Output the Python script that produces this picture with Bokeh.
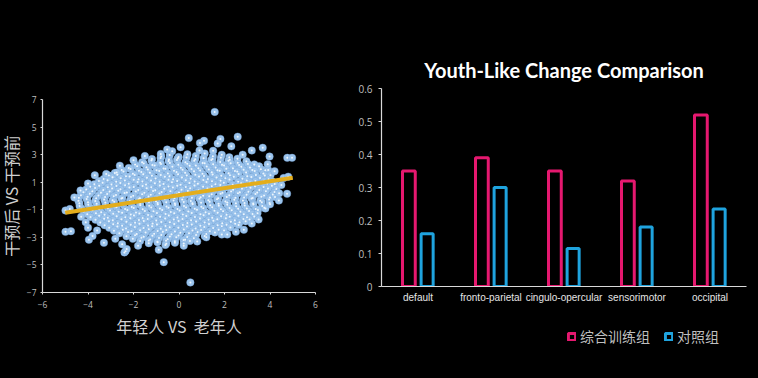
from bokeh.plotting import figure
from bokeh.models import Range1d, FixedTicker, FactorRange, Legend, LegendItem, ColumnDataSource
from bokeh.transform import dodge
from bokeh.layouts import row, column
from bokeh.embed import file_html
from bokeh.resources import INLINE

# ---------------- data ----------------
# scatter: 年轻人 VS 老年人 (x)  vs  干预后 VS 干预前 (y)
core_points = [
    (-0.78, 2.86), (-0.41, 2.97), (-0.02, 2.83), (0.37, 3.02), (0.74, 2.91), (1.13, 3.08), (1.49, 2.88), (1.88, 2.99), (2.21, 2.81),
    (-0.3, 3.25), (0.9, 3.3), (1.5, 3.28),
    (-1.19, 2.68), (-0.81, 2.76), (-0.44, 2.64), (-0.05, 2.73), (0.33, 2.79), (0.71, 2.66), (1.08, 2.74), (1.47, 2.69), (1.84, 2.77), (2.23, 2.63), (2.57, 2.71),
    (-1.62, 2.45), (-1.21, 2.58), (-0.83, 2.41), (-0.46, 2.53), (-0.09, 2.62), (0.28, 2.44), (0.67, 2.55), (1.04, 2.39), (1.42, 2.61), (1.81, 2.47), (2.17, 2.56), (2.58, 2.42), (2.96, 2.52),
    (-1.93, 2.28), (-1.55, 2.36), (-1.17, 2.25), (-0.79, 2.33), (-0.4, 2.39), (-0.03, 2.27), (0.36, 2.34), (0.74, 2.22), (1.13, 2.37), (1.5, 2.3), (1.89, 2.26), (2.27, 2.38), (2.64, 2.24), (3.03, 2.32), (3.31, 2.29),
    (-2.21, 2.03), (-1.84, 2.16), (-1.43, 2.08), (-1.07, 2.21), (-0.68, 1.99), (-0.29, 2.12), (0.08, 2.05), (0.47, 2.19), (0.85, 2.02), (1.22, 2.14), (1.61, 2.07), (1.98, 2.22), (2.37, 2.01), (2.74, 2.13), (3.12, 2.06), (3.52, 2.15),
    (-2.52, 1.88), (-2.13, 1.95), (-1.76, 1.84), (-1.37, 1.92), (-0.99, 1.86), (-0.6, 1.97), (-0.22, 1.83), (0.16, 1.9), (0.55, 1.96), (0.93, 1.85), (1.31, 1.93), (1.69, 1.87), (2.08, 1.98), (2.46, 1.82), (2.84, 1.91), (3.22, 1.89), (3.6, 1.94), (3.79, 1.86),
    (-2.82, 1.66), (-2.44, 1.78), (-2.03, 1.62), (-1.66, 1.74), (-1.28, 1.69), (-0.87, 1.81), (-0.49, 1.63), (-0.11, 1.75), (0.27, 1.68), (0.66, 1.79), (1.03, 1.61), (1.44, 1.72), (1.79, 1.84), (2.18, 1.65), (2.56, 1.77), (2.95, 1.7), (3.33, 1.82), (3.71, 1.64), (3.92, 1.88),
    (-3.08, 1.48), (-2.71, 1.55), (-2.33, 1.44), (-1.95, 1.52), (-1.57, 1.58), (-1.19, 1.46), (-0.8, 1.53), (-0.42, 1.43), (-0.04, 1.57), (0.34, 1.49), (0.72, 1.54), (1.1, 1.45), (1.48, 1.56), (1.86, 1.47), (2.24, 1.51), (2.62, 1.59), (3.0, 1.44), (3.38, 1.53), (3.77, 1.48), (4.02, 1.5),
    (-3.31, 1.24), (-2.92, 1.36), (-2.56, 1.29), (-2.17, 1.41), (-1.78, 1.22), (-1.41, 1.33), (-1.03, 1.27), (-0.62, 1.39), (-0.26, 1.21), (0.13, 1.35), (0.51, 1.26), (0.88, 1.42), (1.27, 1.23), (1.65, 1.34), (2.04, 1.28), (2.41, 1.4), (2.79, 1.25), (3.18, 1.37), (3.56, 1.3), (3.94, 1.21),
    (-3.52, 1.08), (-3.14, 1.15), (-2.76, 1.04), (-2.38, 1.12), (-1.99, 1.18), (-1.61, 1.06), (-1.23, 1.13), (-0.85, 1.03), (-0.46, 1.17), (-0.08, 1.09), (0.3, 1.14), (0.69, 1.05), (1.07, 1.16), (1.45, 1.07), (1.83, 1.11), (2.22, 1.19), (2.6, 1.04), (2.98, 1.13), (3.36, 1.08), (3.74, 1.1), (4.1, 1.06),
    (-3.72, 0.86), (-3.36, 0.97), (-2.97, 0.83), (-2.58, 0.95), (-2.21, 0.88), (-1.82, 1.01), (-1.45, 0.84), (-1.06, 0.93), (-0.68, 0.87), (-0.31, 0.99), (0.07, 0.82), (0.46, 0.94), (0.83, 0.89), (1.21, 1.02), (1.6, 0.85), (1.97, 0.96), (2.36, 0.81), (2.73, 0.92), (3.12, 0.98), (3.49, 0.84), (3.88, 0.91), (4.21, 0.87),
    (-3.9, 0.68), (-3.51, 0.75), (-3.13, 0.64), (-2.75, 0.72), (-2.37, 0.78), (-1.99, 0.66), (-1.6, 0.73), (-1.22, 0.63), (-0.84, 0.77), (-0.46, 0.69), (-0.08, 0.74), (0.3, 0.65), (0.68, 0.76), (1.06, 0.67), (1.44, 0.71), (1.82, 0.79), (2.2, 0.64), (2.58, 0.73), (2.96, 0.68), (3.34, 0.7), (3.72, 0.66), (4.08, 0.74),
    (-4.08, 0.47), (-3.69, 0.58), (-3.33, 0.43), (-2.94, 0.55), (-2.57, 0.49), (-2.18, 0.61), (-1.79, 0.44), (-1.42, 0.56), (-1.04, 0.41), (-0.65, 0.53), (-0.27, 0.62), (0.11, 0.46), (0.49, 0.57), (0.86, 0.42), (1.25, 0.54), (1.63, 0.48), (2.01, 0.6), (2.38, 0.45), (2.77, 0.52), (3.14, 0.59), (3.53, 0.43), (3.91, 0.55), (4.28, 0.5),
    (-4.2, 0.28), (-3.81, 0.35), (-3.43, 0.24), (-3.05, 0.32), (-2.67, 0.38), (-2.29, 0.26), (-1.9, 0.33), (-1.52, 0.23), (-1.14, 0.37), (-0.76, 0.29), (-0.38, 0.34), (0.0, 0.25), (0.39, 0.36), (0.77, 0.27), (1.15, 0.31), (1.53, 0.39), (1.91, 0.24), (2.29, 0.33), (2.67, 0.28), (3.05, 0.3), (3.44, 0.26), (3.82, 0.34), (4.2, 0.29),
    (-4.31, 0.06), (-3.92, 0.17), (-3.54, 0.03), (-3.16, 0.14), (-2.77, 0.08), (-2.39, 0.21), (-2.01, 0.02), (-1.62, 0.13), (-1.24, 0.09), (-0.86, 0.19), (-0.47, 0.04), (-0.09, 0.15), (0.3, 0.07), (0.68, 0.18), (1.06, 0.01), (1.44, 0.12), (1.83, 0.16), (2.21, 0.05), (2.59, 0.2), (2.97, 0.09), (3.36, 0.14), (3.74, 0.03), (4.12, 0.11),
    (-4.4, -0.12), (-4.02, -0.05), (-3.64, -0.16), (-3.25, -0.08), (-2.87, -0.02), (-2.49, -0.14), (-2.11, -0.07), (-1.72, -0.17), (-1.34, -0.03), (-0.96, -0.11), (-0.58, -0.06), (-0.2, -0.15), (0.19, -0.04), (0.57, -0.13), (0.95, -0.09), (1.33, -0.01), (1.72, -0.16), (2.1, -0.07), (2.48, -0.12), (2.86, -0.1), (3.24, -0.14), (3.62, -0.06), (4.0, -0.11), (4.22, -0.08),
    (-4.42, -0.34), (-4.06, -0.22), (-3.68, -0.37), (-3.29, -0.26), (-2.92, -0.31), (-2.53, -0.19), (-2.16, -0.35), (-1.77, -0.24), (-1.39, -0.29), (-1.01, -0.38), (-0.63, -0.21), (-0.24, -0.33), (0.14, -0.25), (0.52, -0.36), (0.9, -0.2), (1.29, -0.3), (1.67, -0.23), (2.04, -0.39), (2.43, -0.27), (2.81, -0.32), (3.19, -0.18), (3.57, -0.34), (3.96, -0.26),
    (-4.38, -0.52), (-4.0, -0.45), (-3.62, -0.56), (-3.24, -0.48), (-2.85, -0.42), (-2.47, -0.54), (-2.09, -0.47), (-1.71, -0.57), (-1.32, -0.43), (-0.94, -0.51), (-0.56, -0.46), (-0.18, -0.55), (0.21, -0.44), (0.59, -0.53), (0.97, -0.49), (1.35, -0.41), (1.74, -0.56), (2.12, -0.47), (2.5, -0.52), (2.88, -0.5), (3.26, -0.54), (3.64, -0.46), (3.98, -0.51),
    (-4.37, -0.72), (-3.99, -0.63), (-3.61, -0.77), (-3.23, -0.66), (-2.84, -0.74), (-2.46, -0.61), (-2.08, -0.79), (-1.7, -0.68), (-1.31, -0.71), (-0.93, -0.62), (-0.55, -0.76), (-0.17, -0.65), (0.22, -0.73), (0.6, -0.6), (0.98, -0.78), (1.37, -0.67), (1.75, -0.7), (2.12, -0.64), (2.51, -0.75), (2.89, -0.69), (3.27, -0.62), (3.66, -0.73),
    (-4.28, -0.92), (-3.9, -0.85), (-3.52, -0.96), (-3.13, -0.88), (-2.75, -0.82), (-2.37, -0.94), (-1.99, -0.87), (-1.6, -0.97), (-1.22, -0.83), (-0.84, -0.91), (-0.46, -0.86), (-0.07, -0.95), (0.31, -0.84), (0.69, -0.93), (1.07, -0.89), (1.46, -0.81), (1.84, -0.96), (2.22, -0.87), (2.6, -0.92), (2.98, -0.9), (3.37, -0.94), (3.75, -0.86),
    (-4.18, -1.12), (-3.8, -1.03), (-3.42, -1.17), (-3.03, -1.06), (-2.65, -1.14), (-2.27, -1.01), (-1.89, -1.19), (-1.5, -1.08), (-1.12, -1.11), (-0.74, -1.02), (-0.36, -1.16), (0.03, -1.05), (0.41, -1.13), (0.79, -1.0), (1.17, -1.18), (1.56, -1.07), (1.94, -1.1), (2.32, -1.04), (2.7, -1.15), (3.08, -1.09), (3.47, -1.02),
    (-4.03, -1.32), (-3.65, -1.25), (-3.27, -1.36), (-2.89, -1.28), (-2.5, -1.22), (-2.12, -1.34), (-1.74, -1.27), (-1.36, -1.37), (-0.97, -1.23), (-0.59, -1.31), (-0.21, -1.26), (0.17, -1.35), (0.56, -1.24), (0.94, -1.33), (1.32, -1.29), (1.7, -1.21), (2.09, -1.36), (2.47, -1.27), (2.85, -1.32), (3.23, -1.3), (3.45, -1.26),
    (-3.89, -1.52), (-3.51, -1.43), (-3.13, -1.57), (-2.74, -1.46), (-2.36, -1.54), (-1.98, -1.41), (-1.6, -1.59), (-1.21, -1.48), (-0.83, -1.51), (-0.45, -1.42), (-0.07, -1.56), (0.32, -1.45), (0.7, -1.53), (1.08, -1.4), (1.46, -1.58), (1.85, -1.47), (2.23, -1.5), (2.61, -1.44), (2.99, -1.55), (3.31, -1.49),
    (-3.67, -1.72), (-3.29, -1.65), (-2.91, -1.76), (-2.53, -1.68), (-2.14, -1.62), (-1.76, -1.74), (-1.38, -1.67), (-1.0, -1.77), (-0.61, -1.63), (-0.23, -1.71), (0.15, -1.66), (0.53, -1.75), (0.92, -1.64), (1.3, -1.73), (1.68, -1.69), (2.06, -1.61), (2.45, -1.76), (2.83, -1.67), (3.1, -1.7),
    (-3.46, -1.92), (-3.08, -1.83), (-2.69, -1.97), (-2.31, -1.86), (-1.93, -1.94), (-1.55, -1.81), (-1.16, -1.99), (-0.78, -1.88), (-0.4, -1.91), (-0.02, -1.82), (0.37, -1.96), (0.75, -1.85), (1.13, -1.93), (1.51, -1.8), (1.9, -1.98), (2.28, -1.87), (2.66, -1.9), (2.93, -1.84),
    (-3.27, -2.12), (-2.89, -2.05), (-2.5, -2.16), (-2.12, -2.08), (-1.74, -2.02), (-1.36, -2.14), (-0.97, -2.07), (-0.59, -2.17), (-0.21, -2.03), (0.17, -2.11), (0.56, -2.06), (0.94, -2.15), (1.32, -2.04), (1.7, -2.13), (2.09, -2.09), (2.47, -2.01), (2.62, -2.1),
    (-3.07, -2.31), (-2.71, -2.22), (-2.33, -2.36), (-1.94, -2.25), (-1.56, -2.33), (-1.18, -2.2), (-0.8, -2.38), (-0.41, -2.27), (-0.03, -2.3), (0.35, -2.21), (0.73, -2.35), (1.11, -2.24), (1.5, -2.32), (1.88, -2.19), (2.26, -2.28),
    (-2.86, -2.52), (-2.47, -2.45), (-2.09, -2.56), (-1.71, -2.48), (-1.33, -2.42), (-0.94, -2.54), (-0.56, -2.47), (-0.18, -2.57), (0.21, -2.43), (0.59, -2.51), (0.97, -2.46), (1.35, -2.55), (1.74, -2.44), (1.98, -2.5),
    (-2.62, -2.71), (-2.24, -2.62), (-1.86, -2.76), (-1.47, -2.65), (-1.09, -2.73), (-0.71, -2.6), (-0.33, -2.78), (0.06, -2.67), (0.44, -2.7), (0.82, -2.61), (1.2, -2.75), (1.58, -2.64),
    (-2.31, -2.92), (-1.93, -2.85), (-1.55, -2.96), (-1.17, -2.88), (-0.78, -2.82), (-0.4, -2.94), (-0.02, -2.87), (0.36, -2.97), (0.75, -2.83), (1.13, -2.91),
    (-2.03, -3.11), (-1.65, -3.02), (-1.27, -3.16), (-0.88, -3.05), (-0.5, -3.13), (-0.12, -3.0), (0.27, -3.18), (0.65, -3.07),
    (-1.71, -3.27), (-1.33, -3.22), (-0.95, -3.31), (-0.57, -3.24), (-0.18, -3.29), (0.2, -3.2), (0.48, -3.26),
    (-1.33, -3.42), (-0.94, -3.36), (-0.56, -3.47), (-0.18, -3.39), (0.21, -3.44),
]
fringe_points = [
    (-4.6, -0.1), (-4.33, 0.4), (-4.8, -0.95), (-4.99, -1.05), (-4.3, -1.5), (-4.1, -1.9), (-4.0, -2.3), (-3.6, -2.5),
    (-3.8, -2.9), (-3.96, -3.17), (-3.3, -3.4), (-2.8, -3.1), (-2.5, -3.5), (-1.8, -3.6), (-0.89, -3.9), (-0.6, -3.55),
    (0.21, -3.6), (0.8, -3.3), (1.2, -3.0), (1.88, -2.8), (2.12, -2.8), (2.5, -2.6), (2.85, -2.45), (3.2, -2.0),
    (3.5, -1.7), (3.8, -0.9), (4.0, -0.6), (4.39, -0.33), (4.4, 0.2), (4.75, 0.16), (4.5, 0.8), (4.6, 1.3),
    (4.2, 1.8), (3.9, 2.3), (3.98, 2.86), (3.68, 3.5), (3.2, 3.3), (2.8, 3.0), (2.58, 4.3), (2.3, 3.6),
    (1.82, 4.14), (1.7, 3.8), (1.1, 4.0), (0.92, 3.85), (0.43, 4.2), (0.07, 3.54), (-0.52, 3.37), (-0.8, 3.05),
    (-1.5, 2.9), (-2.0, 2.6), (-2.6, 2.2), (-3.2, 1.6), (-2.74, 1.7), (-3.7, 1.5), (-4.0, 0.9), (-4.99, -2.6),
    (-4.75, -2.55), (4.76, 2.77), (4.97, 2.77), (4.8, 1.4), (-2.4, -4.1), (-2.35, -4.0), (-2.3, -3.85), (-0.67, -4.8),
    (0.5, -6.27), (1.57, 6.1),
]
trend_x = [-5.0, 5.0]
trend_y = [-1.22, 1.33]
x_ticks = [-6, -4, -2, 0, 2, 4, 6]
y_ticks = [-7, -5, -3, -1, 1, 3, 5, 7]

# bar chart
categories = ["default", "fronto-parietal", "cingulo-opercular", "sensorimotor", "occipital"]
training_values = [0.35, 0.39, 0.35, 0.32, 0.52]   # 综合训练组
control_values = [0.16, 0.30, 0.115, 0.18, 0.235]  # 对照组
bar_y_ticks = [0, 0.1, 0.2, 0.3, 0.4, 0.5, 0.6]

# ---------------- styles ----------------
BG = "black"
AXIS_COLOR = "#d9d9d9"
TICK_TEXT = "#bfbfbf"
PINK = "#e5186f"
BLUE = "#1fa3de"
CJK = "Noto Sans CJK SC"

# ---------------- left: scatter ----------------
p1 = figure(width=345, height=378, x_range=Range1d(-6, 6), y_range=Range1d(-7, 7),
            output_backend="svg", toolbar_location=None,
            min_border_left=42, min_border_right=25, min_border_top=99, min_border_bottom=86,
            background_fill_color=BG, border_fill_color=BG, outline_line_color=None,
            frame_align=False)
p1.grid.visible = False
pts = core_points + fringe_points
sx = [p[0] for p in pts]
sy = [p[1] for p in pts]
p1.scatter(sx, sy, size=7.5, fill_color="#9cc4ec", line_color="#74a4d8", line_width=0.4)
p1.scatter(sx, sy, size=2, fill_color="#eef6fd", line_color=None)
p1.line(trend_x, trend_y, line_color="#e3ad1c", line_width=4)

p1.xaxis.ticker = FixedTicker(ticks=x_ticks)
p1.yaxis.ticker = FixedTicker(ticks=y_ticks)
for ax in (p1.xaxis, p1.yaxis):
    ax.axis_line_color = AXIS_COLOR
    ax.axis_line_width = 1.2
    ax.major_tick_line_color = AXIS_COLOR
    ax.major_tick_out = 2
    ax.major_tick_in = 0
    ax.minor_tick_line_color = None
    ax.major_label_text_color = TICK_TEXT
    ax.major_label_text_font = "Open Sans"
    ax.major_label_text_font_size = "8.5px"
    ax.major_label_standoff = 4
    ax.axis_label_text_color = "#d0d0d0"
    ax.axis_label_text_font = CJK
    ax.axis_label_text_font_style = "normal"
    ax.axis_label_text_line_height = 1.0
p1.xaxis.major_label_standoff = 6
p1.xaxis.axis_label = "年轻人 VS \u00a0老年人"
p1.xaxis.axis_label_text_font_size = "16px"
p1.xaxis.axis_label_standoff = 3
p1.yaxis.axis_label = "干预后 VS 干预前"
p1.yaxis.axis_label_text_font_size = "16px"
p1.yaxis.axis_label_standoff = 1

# ---------------- right: bars ----------------
src = ColumnDataSource(dict(cat=categories, train=training_values, ctrl=control_values))
p2 = figure(width=418, height=326, x_range=FactorRange(*categories), y_range=Range1d(0, 0.6),
            output_backend="svg", toolbar_location=None,
            min_border_left=41, min_border_right=12, min_border_top=88, min_border_bottom=40,
            background_fill_color=BG, border_fill_color=BG, outline_line_color=None,
            title="Youth-Like Change Comparison", frame_align=False)
p2.grid.visible = False
p2.title.align = "center"
p2.title.text_color = "white"
p2.title.text_font = "Lato"
p2.title.text_font_style = "bold"
p2.title.text_font_size = "20px"
p2.title.standoff = 13

bar_style_train = dict(fill_color=BG, line_color=PINK, line_width=3)
bar_style_ctrl = dict(fill_color=BG, line_color=BLUE, line_width=3)
p2.vbar(x=dodge("cat", -0.125, range=p2.x_range), top="train", width=0.175, source=src, **bar_style_train)
p2.vbar(x=dodge("cat", 0.125, range=p2.x_range), top="ctrl", width=0.165, source=src, **bar_style_ctrl)

p2.yaxis.ticker = FixedTicker(ticks=bar_y_ticks)
p2.yaxis.major_label_overrides = {0: "0"}
for ax in (p2.xaxis, p2.yaxis):
    ax.axis_line_color = AXIS_COLOR
    ax.axis_line_width = 1.2
    ax.major_tick_line_color = AXIS_COLOR
    ax.minor_tick_line_color = None
    ax.major_tick_in = 0
    ax.major_label_text_color = TICK_TEXT
p2.yaxis.major_tick_out = 3
p2.yaxis.major_label_standoff = 6
p2.yaxis.major_label_text_font = "Open Sans"
p2.yaxis.major_label_text_font_size = "10px"
p2.xaxis.major_tick_out = 0
p2.xaxis.major_tick_line_color = None
p2.xaxis.major_label_standoff = 5
p2.xaxis.major_label_text_font = "Liberation Sans"
p2.xaxis.major_label_text_font_size = "10px"
p2.xaxis.major_label_text_color = "#e6e6e6"

# legend strip under the bar chart: muted copies of the bar renderers (invisible) feed the legend keys
pleg = figure(width=418, height=52, x_range=FactorRange(*categories), y_range=Range1d(0, 1),
              output_backend="svg", toolbar_location=None,
              min_border_left=0, min_border_right=0, min_border_top=0, min_border_bottom=0,
              background_fill_color=BG, border_fill_color=BG, outline_line_color=None,
              frame_align=False)
pleg.axis.visible = False
pleg.grid.visible = False
lt = pleg.vbar(x="cat", top="train", width=0.175, source=src, muted_alpha=0, **bar_style_train)
lc = pleg.vbar(x="cat", top="ctrl", width=0.165, source=src, muted_alpha=0, **bar_style_ctrl)
lt.muted = True
lc.muted = True
legend = Legend(items=[LegendItem(label="综合训练组", renderers=[lt]),
                       LegendItem(label="对照组", renderers=[lc])],
                orientation="horizontal", location=(227, 32),
                glyph_width=9, glyph_height=9, label_standoff=4, spacing=14,
                padding=0, margin=0, border_line_color=None, background_fill_alpha=0,
                label_text_font=CJK, label_text_font_size="14px", label_text_color=TICK_TEXT)
pleg.add_layout(legend, "center")

layout = row(p1, column(p2, pleg, styles={"background-color": "black"}),
             styles={"background-color": "black", "margin-left": "-5px"})
open("out.html", "w").write(file_html(layout, INLINE))
